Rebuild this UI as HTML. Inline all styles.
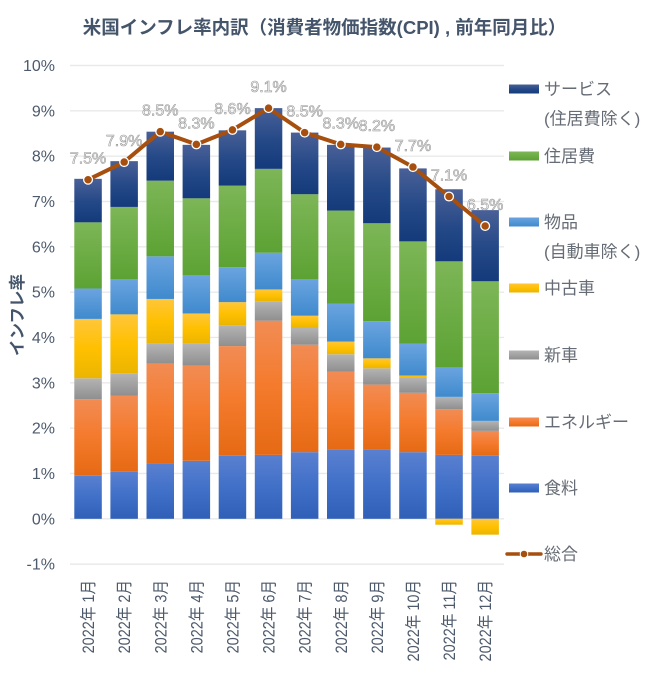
<!DOCTYPE html>
<html lang="ja">
<head>
<meta charset="utf-8">
<title>米国インフレ率内訳</title>
<style>
html,body{margin:0;padding:0;background:#fff;}
body{width:659px;height:680px;overflow:hidden;}
svg{display:block;font-family:"Liberation Sans","Noto Sans CJK JP",sans-serif;}
</style>
</head>
<body>
<svg id="chart" width="659" height="680" viewBox="0 0 659 680" xmlns="http://www.w3.org/2000/svg">
  <defs>
    <linearGradient id="g-food" x1="0" y1="0" x2="0" y2="1"><stop offset="0" stop-color="#5a80d0"/><stop offset="0.5" stop-color="#4070c8"/><stop offset="1" stop-color="#2f5fb7"/></linearGradient>
    <linearGradient id="g-energy" x1="0" y1="0" x2="0" y2="1"><stop offset="0" stop-color="#f28c54"/><stop offset="0.5" stop-color="#f47a2c"/><stop offset="1" stop-color="#e66a14"/></linearGradient>
    <linearGradient id="g-newcar" x1="0" y1="0" x2="0" y2="1"><stop offset="0" stop-color="#b4b4b4"/><stop offset="1" stop-color="#8f8f8f"/></linearGradient>
    <linearGradient id="g-used" x1="0" y1="0" x2="0" y2="1"><stop offset="0" stop-color="#ffc63a"/><stop offset="0.5" stop-color="#ffc000"/><stop offset="1" stop-color="#ebb500"/></linearGradient>
    <linearGradient id="g-goods" x1="0" y1="0" x2="0" y2="1"><stop offset="0" stop-color="#6ba4e0"/><stop offset="1" stop-color="#3f8acd"/></linearGradient>
    <linearGradient id="g-housing" x1="0" y1="0" x2="0" y2="1"><stop offset="0" stop-color="#7db657"/><stop offset="1" stop-color="#5ca233"/></linearGradient>
    <linearGradient id="g-service" x1="0" y1="0" x2="0" y2="1"><stop offset="0" stop-color="#4a6097"/><stop offset="0.5" stop-color="#264a88"/><stop offset="1" stop-color="#143a7b"/></linearGradient>
  </defs>
  <text x="324.5" y="34" text-anchor="middle" font-size="18.5" font-weight="bold" fill="#44546a">米国インフレ率内訳（消費者物価指数(CPI) , 前年同月比）</text>
  <text transform="translate(23,315) rotate(-90)" text-anchor="middle" font-size="16.5" font-weight="bold" fill="#44546a">インフレ率</text>
  <g id="grid"></g>
  <g id="ylabels"></g>
  <g id="bars"></g>
  <g id="line"></g>
  <g id="xlabels"></g>
  <g id="legend"></g>
</svg>
<script>
const categories = ["2022年 1月","2022年 2月","2022年 3月","2022年 4月","2022年 5月","2022年 6月","2022年 7月","2022年 8月","2022年 9月","2022年 10月","2022年 11月","2022年 12月"];
const yTicks = [-1,0,1,2,3,4,5,6,7,8,9,10];
const food = [0.95,1.04,1.21,1.28,1.39,1.41,1.47,1.52,1.52,1.47,1.41,1.39];
const energy = [1.69,1.68,2.21,2.10,2.42,2.96,2.37,1.73,1.44,1.31,1.01,0.55];
const newCar = [0.46,0.49,0.44,0.48,0.46,0.43,0.38,0.38,0.36,0.34,0.27,0.22];
const usedCar = [1.31,1.30,0.99,0.67,0.51,0.26,0.26,0.28,0.22,0.04,-0.13,-0.35];
const goods = [0.67,0.78,0.94,0.84,0.77,0.81,0.81,0.84,0.82,0.70,0.65,0.61];
const housing = [1.46,1.59,1.67,1.70,1.80,1.85,1.87,2.05,2.16,2.26,2.34,2.47];
const service = [0.96,1.01,1.08,1.18,1.22,1.34,1.36,1.45,1.67,1.61,1.59,1.57];
const total = [7.48,7.87,8.54,8.26,8.58,9.06,8.52,8.26,8.20,7.76,7.11,6.46];
const totalLabels = ["7.5%","7.9%","8.5%","8.3%","8.6%","9.1%","8.5%","8.3%","8.2%","7.7%","7.1%","6.5%"];

const NS = "http://www.w3.org/2000/svg";
const plotLeft = 70, plotRight = 504, bandStep = 36.1, barWidth = 27.5;
const y0 = 518.8, pxPerUnit = 45.33;
function yScale(v){ return y0 - v * pxPerUnit; }
function xScale(i){ return plotLeft + bandStep * (i + 0.5); }
function make(tag, attrs, parent){
  const el = document.createElementNS(NS, tag);
  for (const k in attrs) el.setAttribute(k, attrs[k]);
  parent.appendChild(el);
  return el;
}

const grid = document.getElementById("grid");
const ylabels = document.getElementById("ylabels");
yTicks.forEach(function(t){
  const ln = make("line", {x1:plotLeft, x2:plotRight, y1:yScale(t), y2:yScale(t), stroke:"#e9e9e9", "stroke-width":1.4}, grid);
  
  
  const tx = make("text", {x:55, y:yScale(t)+5.5, "text-anchor":"end", "font-size":16, fill:"#4d5a6c"}, ylabels);
  tx.textContent = t + "%";
  
  
});

const seriesList = [
  {key:"food", values:food},
  {key:"energy", values:energy},
  {key:"newcar", values:newCar},
  {key:"used", values:usedCar},
  {key:"goods", values:goods},
  {key:"housing", values:housing},
  {key:"service", values:service}
];
const bars = document.getElementById("bars");
categories.forEach(function(c, i){
  let pos = 0, neg = 0;
  seriesList.forEach(function(s){
    const v = s.values[i];
    let top, bottom;
    if (v >= 0) { bottom = pos; pos += v; top = pos; }
    else { top = neg; neg += v; bottom = neg; }
    const r = make("rect", {x:xScale(i)-barWidth/2, y:yScale(top), width:barWidth, height:yScale(bottom)-yScale(top), fill:"url(#g-"+s.key+")"}, bars);
    
    
  });
});

const lineG = document.getElementById("line");
const pts = total.map(function(v,i){ return xScale(i)+","+yScale(v); }).join(" ");
const poly = make("polyline", {points:pts, fill:"none", stroke:"#a64f0e", "stroke-width":4, "stroke-linejoin":"round", "stroke-linecap":"round"}, lineG);


total.forEach(function(v,i){
  const m = make("circle", {cx:xScale(i), cy:yScale(v), r:4.4, fill:"#a64f0e", stroke:"#fff", "stroke-width":1.3}, lineG);
  
  
  const t = make("text", {x:xScale(i), y:yScale(v)-16, "text-anchor":"middle", "font-size":16, fill:"#f8f8f8", stroke:"#959595", "stroke-width":0.6}, lineG);
  t.textContent = totalLabels[i];
  
  
});

const xlabels = document.getElementById("xlabels");
categories.forEach(function(c,i){
  const t = make("text", {transform:"translate("+(xScale(i)+6)+",580) rotate(-90) scale(0.88,1)", "text-anchor":"end", "font-size":16.5, fill:"#4d5a6c"}, xlabels);
  t.textContent = c;
  
  
});

const legendKeys = ["service","housing","goods","used","newcar","energy","food"];
const legendCenters = [89,156,222,288,355,422,488];
const legendLines = [["サービス","(住居費除く)"],["住居費"],["物品","(自動車除く)"],["中古車"],["新車"],["エネルギー"],["食料"]];
const legend = document.getElementById("legend");
legendKeys.forEach(function(k,i){
  const cy = legendCenters[i];
  const sw = make("rect", {x:509, y:cy-4.5, width:30, height:9, fill:"url(#g-"+k+")"}, legend);
  
  
  legendLines[i].forEach(function(s,j){
    const t = make("text", {x:544, y:cy+6+j*29.5, "font-size":17, fill:"#666c75"}, legend);
    t.textContent = s;
    
    
  });
});
const legLine = make("line", {x1:507, x2:541, y1:554, y2:554, stroke:"#a64f0e", "stroke-width":3.4, "stroke-linecap":"round"}, legend);


const legDot = make("circle", {cx:524, cy:554, r:3.8, fill:"#a64f0e", stroke:"#fff", "stroke-width":1}, legend);


const legText = make("text", {x:544, y:560, "font-size":17, fill:"#666c75"}, legend);
legText.textContent = "総合";


</script>
</body>
</html>
